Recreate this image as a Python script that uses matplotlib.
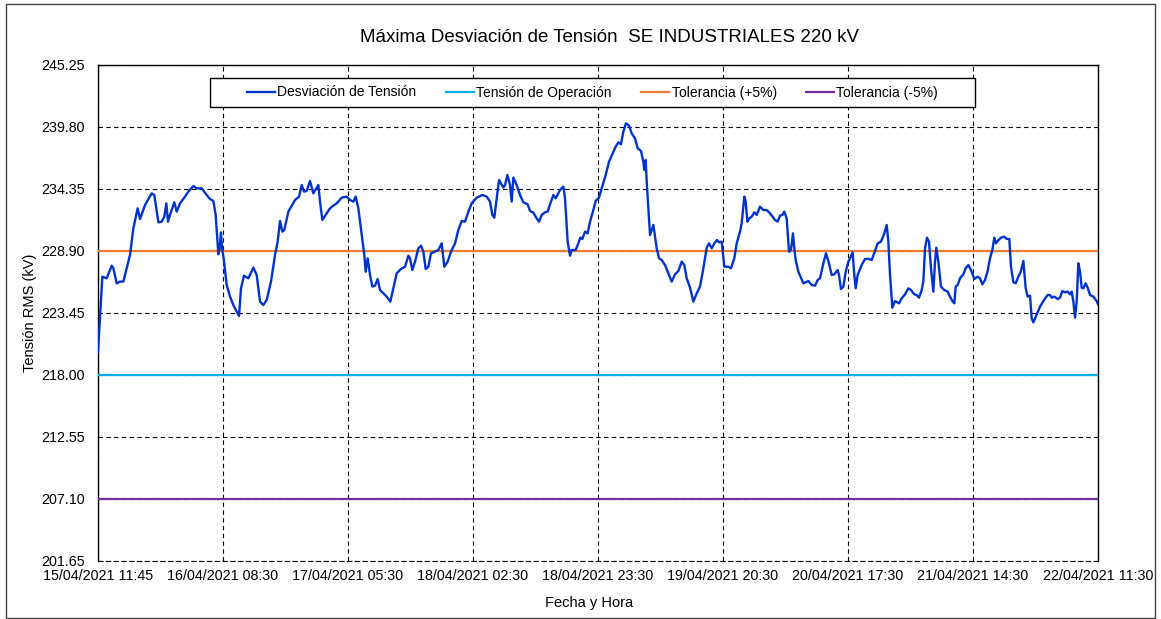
import matplotlib
matplotlib.use("Agg")
import matplotlib.pyplot as plt
from matplotlib.patches import Rectangle

plt.rcParams['font.family'] = ['Liberation Sans', 'DejaVu Sans']

# Hours elapsed since 15/04/2021 11:45
hours = [
    0.00, 0.73, 1.46, 2.30, 2.58, 3.14, 3.70, 4.26, 4.82, 5.38, 5.94, 6.66, 7.06, 7.90, 9.02, 9.46,
    10.14, 10.70, 11.14, 11.48, 11.76, 12.10, 12.82, 13.22, 13.78, 14.62, 15.18, 16.02, 16.58, 17.42,
    18.26, 18.82, 19.38, 19.77, 20.22, 20.44, 20.66, 20.83, 21.11, 21.62, 22.18, 22.74, 23.30, 23.69,
    24.02, 24.53, 25.26, 26.10, 26.66, 27.22, 27.78, 28.34, 29.06, 29.74, 30.18, 30.58, 30.97, 31.30,
    31.98, 33.10, 33.77,
    34.22, 34.61, 35.06, 35.62, 36.18, 37.02, 37.30, 37.69, 38.42, 38.98, 39.54, 40.10, 40.94, 41.78,
    42.34, 42.90, 43.29, 43.74, 44.30, 44.74, 44.97, 45.30, 45.70, 46.09, 46.54, 46.98, 47.38, 47.94,
    48.50, 49.11, 49.62, 50.18, 50.90, 51.58, 52.14, 52.42, 52.81, 53.26, 53.82, 54.26, 54.66, 55.05,
    55.50, 55.94, 56.62, 57.18, 57.74, 58.18, 58.74, 59.30, 59.98, 60.54, 61.10, 61.66, 62.22, 62.78,
    63.62, 64.57, 65.30, 65.86, 66.25, 66.58,
    67.37, 68.10, 68.38, 68.77, 69.22, 69.50, 69.78, 70.34, 70.90, 71.46, 72.18, 72.58, 73.14, 73.70,
    74.09, 74.54, 75.10, 75.54, 75.94, 76.50, 76.89, 77.62, 78.18, 78.46, 78.90, 79.30, 79.58, 80.25,
    80.70, 81.03, 81.37, 81.82, 82.26, 82.66, 83.22, 83.61, 84.17, 84.62, 85.29, 85.85, 86.41, 86.97,
    87.42, 87.86, 88.26, 88.70, 89.21, 89.66, 90.22, 90.66, 91.22, 91.62, 91.78, 92.01, 92.18, 92.46,
    92.74, 93.02, 93.30, 93.58, 93.86, 94.25, 94.70, 95.26, 95.82, 96.38, 96.94, 97.50, 98.06, 98.50,
    98.90, 99.46, 100.02, 100.58,
    101.14, 101.70, 102.26, 102.65, 103.10, 103.54, 103.99, 104.33, 104.78, 105.22, 105.90, 106.34,
    106.90, 107.30, 107.86, 108.14, 108.58, 108.81, 109.09, 109.42, 109.82, 110.26, 110.66, 111.22,
    111.78, 112.34, 112.90, 113.74, 114.18, 114.58, 114.97, 115.30, 115.70, 116.09, 116.42, 116.76,
    116.98, 117.21, 117.66, 118.50, 119.34, 119.90, 120.46, 120.90, 121.30, 121.86, 122.30, 122.70,
    123.26, 123.70, 124.26, 124.49, 124.82, 125.22, 125.61, 126.06, 126.34, 126.78, 127.06, 127.29,
    127.62, 128.30, 128.86, 129.53, 129.98, 130.54, 130.98, 131.54, 132.10, 132.50, 132.78, 133.06,
    133.45, 133.90, 134.57,
    135.02, 135.58, 136.14, 136.58, 137.14, 137.54, 137.93, 138.38, 138.66, 138.94, 139.27, 139.61,
    139.94, 140.34, 140.62, 140.84, 141.18, 141.62, 142.18, 142.74, 143.14, 143.53, 143.86, 144.09,
    144.42, 144.82, 145.38, 145.77, 146.22, 146.66, 147.22, 147.78, 148.18, 148.57, 149.02, 149.46,
    149.86, 150.25, 150.58, 150.86, 151.14, 151.70, 152.26, 152.66, 153.10, 153.38, 153.78, 154.17,
    154.62, 155.06, 155.46, 155.85, 156.18, 156.58, 156.86, 157.14, 157.70, 158.26, 158.82, 159.21,
    159.54, 159.94, 160.22, 160.66, 161.22, 161.62, 162.01, 162.46, 162.90, 163.30, 163.58, 163.86,
    164.14, 164.42, 164.70, 164.98, 165.26, 165.54, 165.93, 166.26, 166.66, 167.22, 167.78, 168.00,
]

desviacion = [
    220.00, 226.64, 226.50, 227.61, 227.38, 226.06, 226.21, 226.21, 227.38, 228.55, 230.89, 232.65, 231.71, 232.94, 233.97, 233.82,
    231.42, 231.48, 231.92, 233.09, 231.48, 232.07, 233.18, 232.36, 233.09, 233.68, 234.12, 234.61, 234.41, 234.41,
    233.82, 233.47, 233.30, 232.07, 228.61, 229.14, 230.54, 229.14, 228.26, 225.91, 224.89, 224.15, 223.57, 223.19,
    225.62, 226.73, 226.50, 227.44, 226.79, 224.45, 224.15, 224.59, 226.21, 228.55, 229.72, 231.54, 230.60, 230.75,
    232.36, 233.38, 233.68,
    234.70, 234.12, 234.18, 235.05, 233.97, 234.70, 233.24, 231.63, 232.21, 232.65, 232.89, 233.09, 233.59, 233.68,
    233.38, 233.24, 233.68, 232.65, 230.31, 228.55, 227.08, 228.26, 226.79, 225.77, 225.85, 226.44, 225.47, 225.18,
    224.89, 224.45, 225.62, 226.94, 227.32, 227.52, 228.49, 228.26, 227.23, 227.96, 229.14, 229.37, 228.84, 227.32,
    227.52, 228.70, 228.84, 228.99, 229.57, 227.52, 227.96, 228.84, 229.57, 230.75, 231.54, 231.48, 232.36, 233.09,
    233.59, 233.82, 233.68, 233.24, 232.07, 231.83,
    235.14, 234.47, 234.70, 235.58, 234.70, 233.24, 235.35, 234.70, 233.82, 233.18, 233.00, 232.42, 232.27, 231.77,
    231.48, 232.07, 232.30, 232.36, 233.00, 233.82, 233.53, 234.26, 234.56, 233.53, 229.72, 228.49, 228.99, 228.99,
    229.57, 230.07, 229.96, 230.60, 230.45, 231.48, 232.50, 233.30, 233.59, 234.41, 235.58, 236.75, 237.40, 238.07,
    238.45, 238.28, 239.39, 240.12, 239.92, 239.24, 238.80, 237.93, 237.69, 236.75, 236.02, 236.90, 235.00, 232.65,
    230.31, 230.75, 231.19, 230.16, 229.14, 228.26, 228.11, 227.67, 226.94, 226.21, 226.85, 227.14, 227.96, 227.67,
    226.50, 225.68, 224.45, 225.18,
    225.77, 227.38, 229.19, 229.57, 229.14, 229.57, 229.87, 229.66, 229.72, 227.52, 227.52, 227.38,
    228.26, 229.57, 230.60, 231.33, 233.68, 233.24, 231.48, 231.77, 231.92, 232.30, 232.07, 232.80,
    232.50, 232.50, 232.21, 231.63, 231.48, 232.01, 232.07, 232.36, 231.77, 228.84, 228.99, 230.45,
    229.14, 228.11, 227.08, 226.06, 226.26, 225.91, 225.85, 226.35, 226.50, 227.82, 228.70, 228.02,
    226.79, 226.85, 227.23, 226.79, 225.56, 225.77, 227.08, 227.96, 228.26, 228.78, 226.79, 225.62,
    226.79, 227.67, 228.20, 228.20, 228.11, 228.90, 229.57, 229.72, 230.45, 231.19, 229.72, 226.79,
    223.92, 224.50, 224.30,
    224.74, 225.09, 225.62, 225.47, 225.09, 225.03, 224.80, 225.47, 226.21, 229.14, 230.07, 229.72,
    227.38, 225.33, 227.96, 229.19, 227.96, 225.77, 225.47, 225.33, 224.89, 224.50, 224.30, 225.77,
    225.91, 226.50, 226.85, 227.38, 227.67, 227.23, 226.44, 226.64, 226.50, 225.97, 226.35, 227.14,
    228.26, 228.99, 230.07, 229.57, 229.78, 230.07, 230.16, 229.96, 229.96, 227.52, 226.15, 226.06,
    226.64, 227.14, 228.02, 225.62, 224.89, 224.97, 222.98, 222.63, 223.33, 224.01, 224.50, 224.80,
    225.03, 225.03, 224.80, 224.89, 224.68, 224.80, 225.38, 225.27, 225.33, 225.09, 225.33, 224.45,
    223.04, 224.45, 227.82, 227.08, 225.68, 225.62, 226.06, 225.68, 225.03, 224.89, 224.50, 224.21,
]

tension_operacion = 218.00
tolerancia_pos = 228.90
tolerancia_neg = 207.10

y_ticks = [201.65, 207.10, 212.55, 218.00, 223.45, 228.90, 234.35, 239.80, 245.25]
x_tick_hours = [0, 21, 42, 63, 84, 105, 126, 147, 168]
x_tick_labels = ["15/04/2021 11:45", "16/04/2021 08:30", "17/04/2021 05:30", "18/04/2021 02:30",
                 "18/04/2021 23:30", "19/04/2021 20:30", "20/04/2021 17:30", "21/04/2021 14:30",
                 "22/04/2021 11:30"]

W, H = 1161, 619
fig = plt.figure(figsize=(W / 100, H / 100), dpi=100)
ax = fig.add_axes([98 / W, 1 - 561 / H, 1000 / W, 496 / H])

ax.plot(hours, desviacion, color="#0033CC", lw=1.7, label="Desviación de Tensión", zorder=5)
ax.axhline(tension_operacion, color="#00B0F0", lw=1.6, label="Tensión de Operación", zorder=4)
ax.axhline(tolerancia_pos, color="#ED7D31", lw=1.6, label="Tolerancia (+5%)", zorder=4)
ax.axhline(tolerancia_neg, color="#7030A0", lw=1.6, label="Tolerancia (-5%)", zorder=4)

ax.set_xlim(0, 168)
ax.set_ylim(201.65, 245.25)
ax.set_yticks(y_ticks)
ax.set_yticklabels([f"{v:.2f}" for v in y_ticks])
ax.set_xticks(x_tick_hours)
ax.set_xticklabels(x_tick_labels)
ax.tick_params(axis="both", length=0, labelsize=10.3, colors="black")
ax.tick_params(axis="y", pad=9.5)
ax.tick_params(axis="x", pad=6)
ax.grid(True, color="black", linestyle=(0, (4, 3)), linewidth=0.8, zorder=1)
ax.set_axisbelow(True)
for side in ["left", "right", "top"]:
    ax.spines[side].set_linewidth(1.0)
    ax.spines[side].set_color("black")
ax.spines["bottom"].set_linestyle((0, (4, 3)))
ax.spines["bottom"].set_linewidth(0.8)

ax.set_ylabel("Tensión RMS (kV)", fontsize=10.5, labelpad=3)
fig.text(589 / W, 1 - 603 / H, "Fecha y Hora", ha="center", va="center", fontsize=10.5)
fig.text(609 / W, 1 - 38 / H, "Máxima Desviación de Tensión  SE INDUSTRIALES 220 kV",
         ha="center", va="center", fontsize=13.5)

# Legend frame box (wider than matplotlib's default padding)
lx0, lx1, ly0, ly1 = 210, 975, 78, 107
frame = Rectangle(((lx0 - 98) / 1000, (561 - ly1) / 496), (lx1 - lx0) / 1000, (ly1 - ly0) / 496,
                  transform=ax.transAxes, facecolor="white", edgecolor="black",
                  linewidth=1.0, zorder=9)
ax.add_patch(frame)

leg = ax.legend(loc="center", bbox_to_anchor=(((lx0 + lx1) / 2 - 98) / 1000, (561 - (ly0 + ly1) / 2) / 496),
                ncol=4, frameon=False, fontsize=10,
                handlelength=2.0, handletextpad=0.2, columnspacing=2.1,
                borderpad=0.0, borderaxespad=0)
leg.set_zorder(10)

fig.patches.append(Rectangle((6 / W, 1 / H), 1149 / W, 614 / H, transform=fig.transFigure,
                             fill=False, edgecolor="#444444", linewidth=1.0))

fig.savefig("out.png", dpi=100)
